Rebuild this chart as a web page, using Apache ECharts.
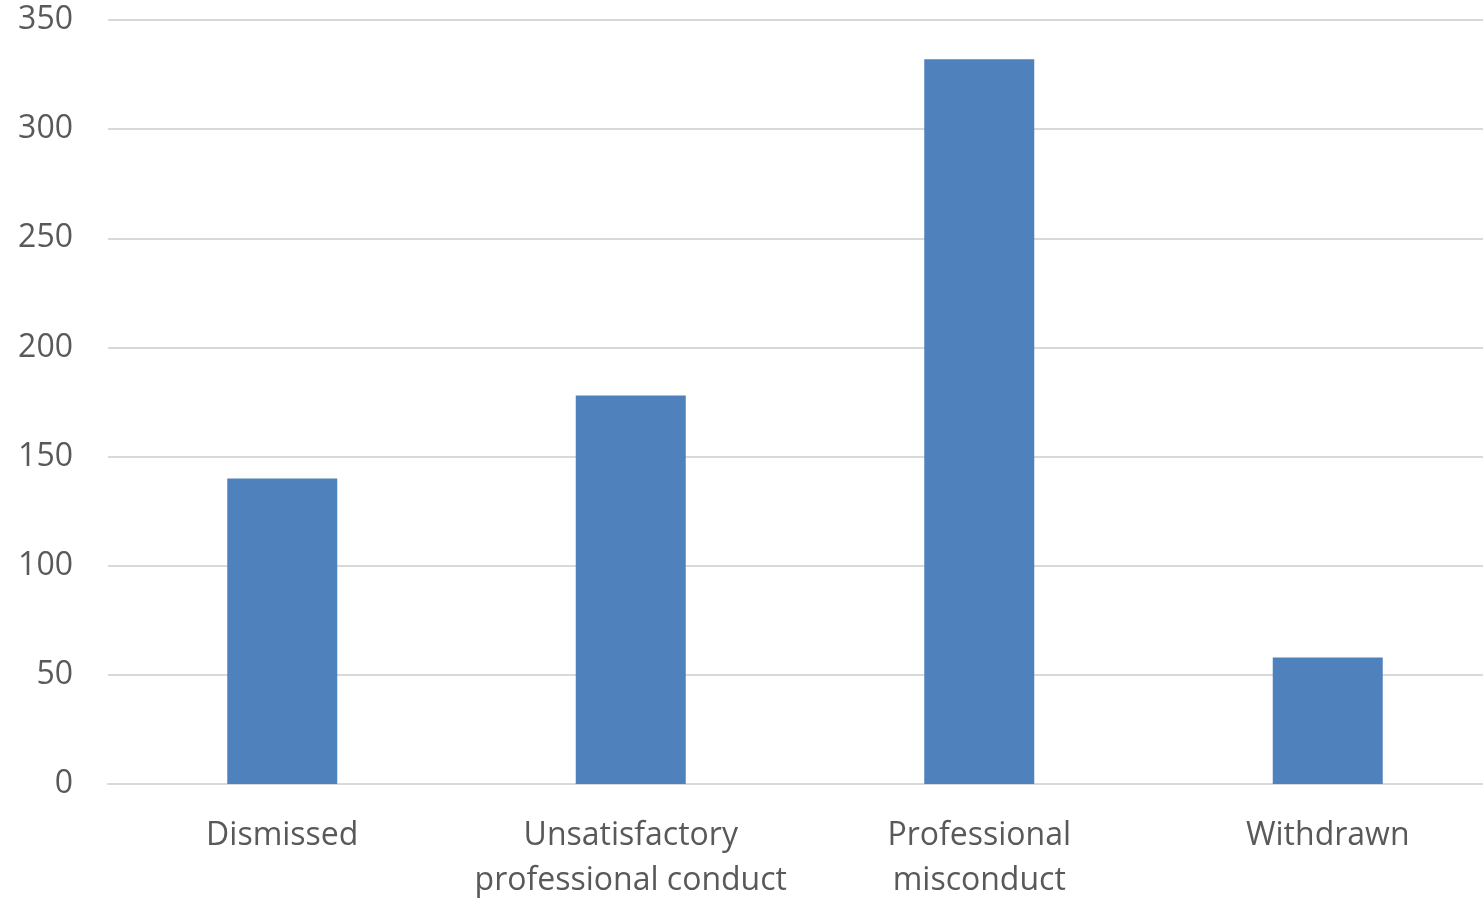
<!DOCTYPE html>
<html><head><meta charset="utf-8">
<script src="https://cdn.jsdelivr.net/npm/echarts@6/dist/echarts.min.js"></script>
<style>html,body{margin:0;padding:0;background:#fff}#c{width:1483px;height:898px}</style>
</head><body><div id="c"></div>
<script>
const categories = ['Dismissed', 'Unsatisfactory\nprofessional conduct', 'Professional\nmisconduct', 'Withdrawn'];
const values = [140, 178, 332, 58];
const yTicks = [0, 50, 100, 150, 200, 250, 300, 350];

const chart = echarts.init(document.getElementById('c'), null, {renderer: 'canvas'});
chart.setOption({
  animation: false,
  grid: {left: 108, top: 20, width: 1394, bottom: 114, containLabel: false, outerBoundsMode: 'none'},
  xAxis: {
    type: 'category', data: categories,
    axisLine: {lineStyle: {color: '#D9D9D9', width: 2}},
    axisTick: {show: false},
    axisLabel: {color: '#595959', fontFamily: 'Open Sans', fontSize: 32, lineHeight: 45, margin: 29, interval: 0}
  },
  yAxis: {
    type: 'value', min: yTicks[0], max: yTicks[yTicks.length - 1], interval: 50,
    axisLine: {show: false}, axisTick: {show: false},
    splitLine: {lineStyle: {color: '#D9D9D9', width: 2}},
    axisLabel: {color: '#595959', fontFamily: 'Open Sans', fontSize: 32, margin: 35, padding: [5, 0, 0, 0]}
  },
  series: [{
    type: 'bar', data: values, barWidth: 110,
    itemStyle: {color: '#4F81BD'}
  }]
});
</script></body></html>
